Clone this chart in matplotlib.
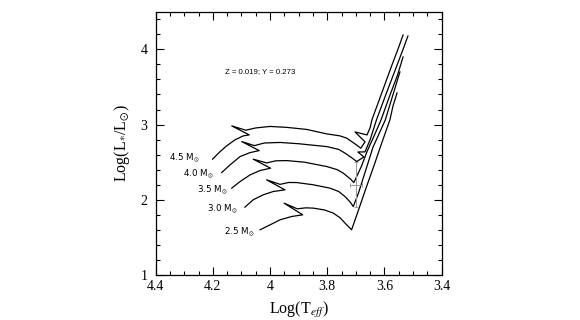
import matplotlib
matplotlib.use('Agg')

import matplotlib.pyplot as plt
from matplotlib.ticker import MultipleLocator, FormatStrFormatter

plt.rcParams['font.family'] = ['Liberation Serif', 'DejaVu Serif']
plt.rcParams['mathtext.fontset'] = 'stix'

# evolutionary tracks (logTeff, logL)
masses = ["4.5", "4.0", "3.5", "3.0", "2.5"]

logT_45 = [4.201, 4.175, 4.152, 4.123, 4.094, 4.073, 4.134, 4.085, 4.050, 4.000, 3.940,
           3.872, 3.802, 3.756, 3.732, 3.703, 3.683, 3.668, 3.703, 3.661, 3.650, 3.644,
           3.621, 3.597, 3.573, 3.553, 3.535]
logL_45 = [2.540, 2.640, 2.716, 2.796, 2.849, 2.863, 2.982, 2.925, 2.955, 2.975, 2.962,
           2.935, 2.876, 2.850, 2.819, 2.743, 2.686, 2.770, 2.902, 2.862, 2.960, 3.062,
           3.300, 3.550, 3.800, 4.000, 4.190]

logT_40 = [4.169, 4.140, 4.105, 4.070, 4.038, 4.099, 4.055, 4.020, 3.965, 3.900, 3.802,
           3.760, 3.738, 3.715, 3.697, 3.672, 3.693, 3.668, 3.650, 3.628, 3.595, 3.560,
           3.535, 3.518]
logL_40 = [2.362, 2.464, 2.574, 2.627, 2.654, 2.774, 2.720, 2.755, 2.762, 2.745, 2.707,
           2.670, 2.620, 2.560, 2.508, 2.570, 2.635, 2.637, 2.800, 3.062, 3.400, 3.750,
           4.000, 4.177]

logT_35 = [4.134, 4.105, 4.070, 4.035, 3.998, 4.059, 4.012, 3.980, 3.942, 3.880, 3.802,
           3.765, 3.744, 3.720, 3.707, 3.680, 3.660, 3.635, 3.612, 3.580, 3.555, 3.535]
logL_35 = [2.155, 2.242, 2.331, 2.389, 2.420, 2.540, 2.490, 2.518, 2.521, 2.500, 2.442,
           2.400, 2.354, 2.280, 2.229, 2.450, 2.650, 2.860, 3.062, 3.400, 3.650, 3.898]

logT_30 = [4.088, 4.059, 4.024, 3.989, 3.948, 4.012, 3.965, 3.935, 3.907, 3.850, 3.791,
           3.760, 3.738, 3.720, 3.709, 3.690, 3.665, 3.640, 3.597, 3.570, 3.546]
logL_30 = [1.902, 2.000, 2.066, 2.110, 2.132, 2.265, 2.205, 2.230, 2.229, 2.200, 2.155,
           2.110, 2.043, 1.970, 1.910, 2.100, 2.400, 2.700, 3.062, 3.400, 3.699]

logT_25 = [4.035, 4.000, 3.965, 3.924, 3.886, 3.951, 3.905, 3.875, 3.849, 3.810, 3.779,
           3.755, 3.738, 3.725, 3.715, 3.692, 3.665, 3.637, 3.610, 3.581, 3.570, 3.556]
logL_25 = [1.601, 1.667, 1.734, 1.778, 1.800, 1.955, 1.880, 1.893, 1.889, 1.865, 1.823,
           1.760, 1.690, 1.640, 1.601, 1.850, 2.150, 2.450, 2.750, 3.062, 3.250, 3.420]

tracks_T = [logT_45, logT_40, logT_35, logT_30, logT_25]
tracks_L = [logL_45, logL_40, logL_35, logL_30, logL_25]

# where the mass labels sit
label_T = [4.298, 4.249, 4.200, 4.168, 4.109]
label_L = [2.557, 2.345, 2.132, 1.880, 1.574]

# grey observed point with error bars
obs_T, obs_L = 3.699, 2.199
obs_Terr, obs_Lerr = 0.02, 0.30

fig = plt.figure(figsize=(5.8, 3.2), dpi=100)
ax = fig.add_axes([0.2684, 0.1406, 0.4931, 0.8228])

for T, L in zip(tracks_T, tracks_L):
    ax.plot(T, L, color="black", lw=0.9)

ax.errorbar(obs_T, obs_L, xerr=obs_Terr, yerr=obs_Lerr, color="#999999",
            lw=0.7, capsize=1.5, capthick=0.7)

for m, x, y in zip(masses, label_T, label_L):
    ax.text(x, y, m + r" M$_{\odot}$", fontsize=6.3, family="DejaVu Sans",
            ha="center", va="center")

ax.text(4.035, 3.71, "Z = 0.019; Y = 0.273", fontsize=5.6, family="Liberation Sans",
        ha="center", va="center")

ax.set_xlim(4.4, 3.4)
ax.set_ylim(1, 4.5)
ax.xaxis.set_major_locator(MultipleLocator(0.2))
ax.xaxis.set_minor_locator(MultipleLocator(0.05))
ax.yaxis.set_major_locator(MultipleLocator(1))
ax.yaxis.set_minor_locator(MultipleLocator(0.2))
ax.xaxis.set_major_formatter(FormatStrFormatter('%g'))
ax.yaxis.set_major_formatter(FormatStrFormatter('%g'))
ax.tick_params(which="both", direction="in", top=True, right=True, labelsize=10)
ax.tick_params(which="major", length=5.5, width=0.8)
ax.tick_params(which="minor", length=2.8, width=0.8)
ax.tick_params(axis="y", pad=6)
for s in ax.spines.values():
    s.set_linewidth(0.9)

ax.set_xlabel(r"Log(T$_{eff}$)", fontsize=11.5, labelpad=5)
ax.set_ylabel(r"Log(L$_{*}$/L$_{\odot}$)", fontsize=11.5, labelpad=6)

fig.savefig("out.png", dpi=100)
